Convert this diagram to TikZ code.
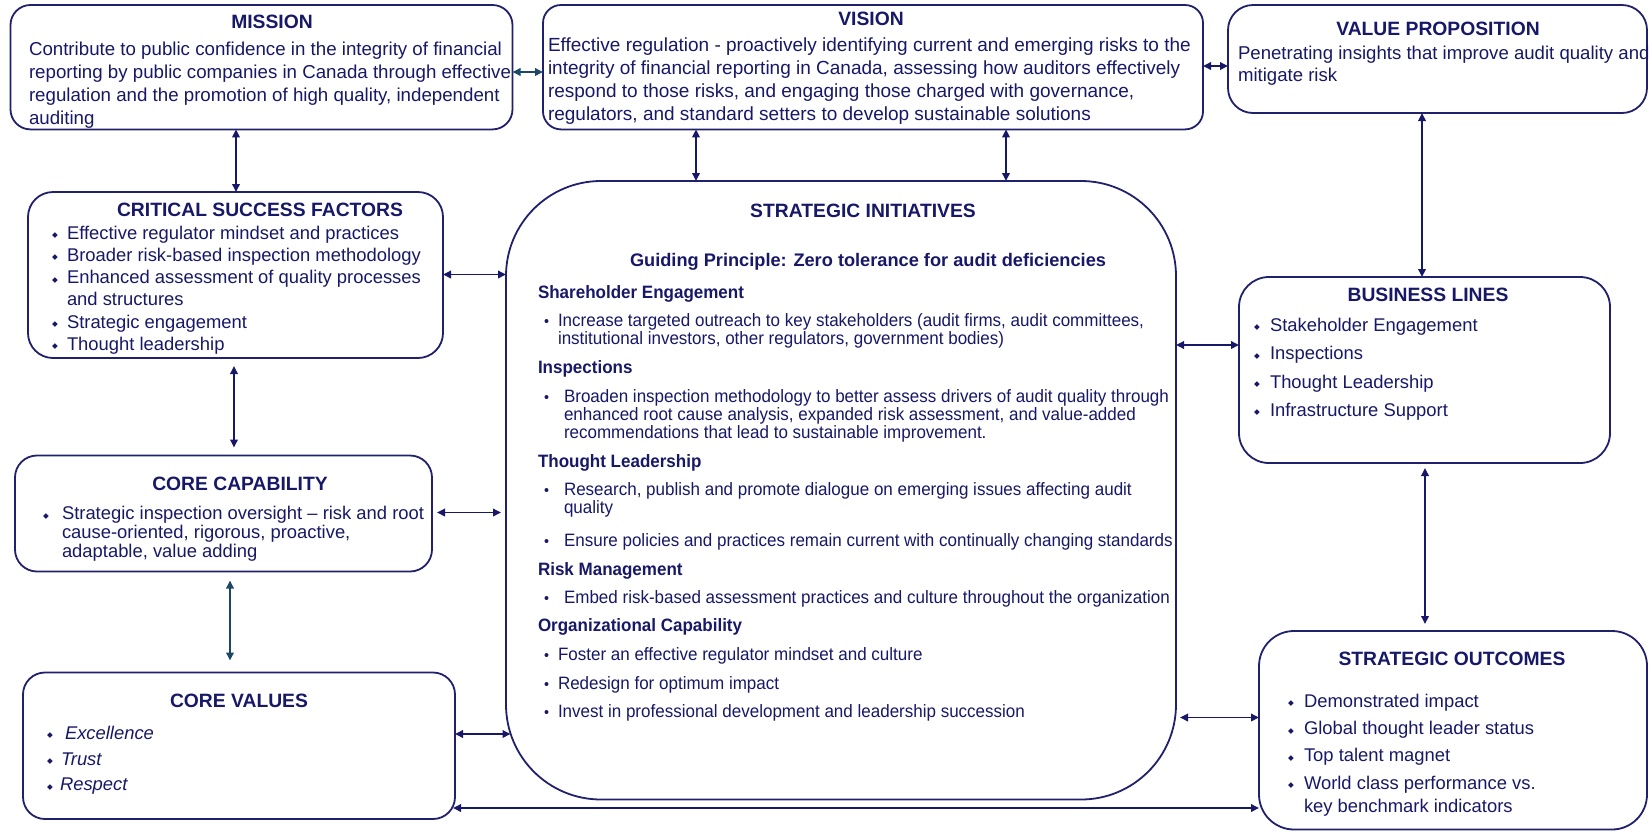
\documentclass[tikz,border=0pt]{standalone}
\usepackage{fontspec}
\setmainfont{Liberation Sans}
\newfontfamily\djv{DejaVu Sans}
\newfontfamily\sinar[FakeStretch=0.95]{Liberation Sans}
\usetikzlibrary{arrows.meta}
\definecolor{navy}{RGB}{24,24,104}
\definecolor{boxline}{RGB}{32,32,108}
\definecolor{tealc}{RGB}{28,72,104}
\newcounter{lnc}
\newcommand\Tl[3][]{\stepcounter{lnc}\node[txt,#1] (t\arabic{lnc}) at (#2) {#3};}
\newcommand\dia{\raisebox{1.2pt}{\djv\fontsize{7.5}{7.5}\selectfont ◆}}
\newcommand\bl[1]{\llap{\dia\hspace{#1}}}
\newcommand\sibg[1]{\llap{\fontsize{15}{15}\selectfont •\hspace{#1}}}
\begin{document}
\begin{tikzpicture}[x=1pt,y=-1pt,
  box/.style={draw=boxline, line width=1.8pt, rounded corners=22pt, inner sep=0pt, outer sep=0pt, fill=white},
  txt/.style={anchor=base west, inner sep=0pt, outer sep=0pt, text=navy, font=\fontsize{18.4}{22}\selectfont},
  ttl/.style={anchor=base, inner sep=0pt, outer sep=0pt, text=navy, font=\bfseries\fontsize{19.3}{22}\selectfont},
  sit/.style={txt, font=\sinar\fontsize{17.9}{20}\selectfont},
  sih/.style={txt, font=\sinar\bfseries\fontsize{17.9}{20}\selectfont},
  conn/.style={draw=navy, line width=1.8pt, {Triangle[length=8pt,width=7.5pt]}-{Triangle[length=8pt,width=7.5pt]}},
  connt/.style={conn, draw=tealc}
]
\useasboundingbox (0,0) rectangle (1650,831);
\fill[white] (0,0) rectangle (1650,831);

% boxes
\node[box, rounded corners=20pt, minimum width=502pt, minimum height=124.4pt] (mission) at (261.5,67.2) {};
\node[box, rounded corners=18pt, minimum width=660pt, minimum height=124.4pt] (vision) at (873,67.2) {};
\node[box, rounded corners=25pt, minimum width=419pt, minimum height=108pt] (vp) at (1437.5,59) {};
\node[box, rounded corners=25pt, minimum width=415pt, minimum height=166pt] (csf) at (235.5,275) {};
\node[box, minimum width=417pt, minimum height=116pt] (cc) at (223.5,513.5) {};
\node[box, minimum width=432pt, minimum height=146.5pt] (cv) at (239,745.75) {};
\node[box, rounded corners=95pt, minimum width=670pt, minimum height=618.5pt] (si) at (841,490.25) {};
\node[box, rounded corners=30pt, minimum width=371pt, minimum height=186pt] (bl) at (1424.5,370) {};
\node[box, rounded corners=35pt, minimum width=388pt, minimum height=198.5pt] (so) at (1453,730.25) {};

% connector levels
\coordinate (yMV) at (0,72);
\coordinate (yVP) at (0,66);
\coordinate (xMC) at (236,0);
\coordinate (xVS1) at (696,0);
\coordinate (xVS2) at (1006,0);
\coordinate (xVB) at (1422,0);
\coordinate (yCS) at (0,274.5);
\coordinate (xCC) at (234,0);
\coordinate (yCCS) at (0,512.5);
\coordinate (xCV) at (230,0);
\coordinate (yCVS) at (0,734);
\coordinate (ySB) at (0,345);
\coordinate (xBS) at (1425,0);
\coordinate (ySO) at (0,717.5);
\coordinate (yBot) at (0,808);

\draw[connt] (mission.east |- yMV) -- (vision.west |- yMV);
\draw[conn] (vision.east |- yVP) -- (vp.west |- yVP);
\draw[conn] (mission.south -| xMC) -- (csf.north -| xMC);
\draw[conn] (vision.south -| xVS1) -- (si.north -| xVS1);
\draw[conn] (vision.south -| xVS2) -- (si.north -| xVS2);
\draw[conn] (vp.south -| xVB) -- (bl.north -| xVB);
\draw[conn] (csf.east |- yCS) -- (si.west |- yCS);
\draw[conn, shorten <=8pt, shorten >=8pt] (csf.south -| xCC) -- (cc.north -| xCC);
\draw[conn, shorten <=5pt, shorten >=5pt] (cc.east |- yCCS) -- (si.west |- yCCS);
\draw[connt, shorten <=9pt, shorten >=12pt] (cc.south -| xCV) -- (cv.north -| xCV);
\draw[conn, shorten >=-4.5pt] (cv.east |- yCVS) -- (si.west |- yCVS);
\draw[conn] (si.east |- ySB) -- (bl.west |- ySB);
\draw[conn, shorten <=5pt, shorten >=7pt] (bl.south -| xBS) -- (so.north -| xBS);
\draw[conn, shorten <=4pt] (si.east |- ySO) -- (so.west |- ySO);
\draw[conn, shorten <=-2pt] (cv.east |- yBot) -- (so.west |- yBot);

% MISSION
\Tl[ttl]{272,28}{MISSION}
\Tl[font=\fontsize{18.7}{22}\selectfont]{29,55.5}{Contribute to public confidence in the integrity of financial}
\Tl[font=\fontsize{18.7}{22}\selectfont]{29,78.5}{reporting by public companies in Canada through effective}
\Tl[font=\fontsize{18.7}{22}\selectfont]{29,101.5}{regulation and the promotion of high quality, independent}
\Tl[font=\fontsize{18.7}{22}\selectfont]{29,124.5}{auditing}

% VISION
\Tl[ttl]{871,25}{VISION}
\Tl[font=\fontsize{19}{22}\selectfont]{548,51.5}{Effective regulation - proactively identifying current and emerging risks to the}
\Tl[font=\fontsize{19}{22}\selectfont]{548,74.5}{integrity of financial reporting in Canada, assessing how auditors effectively}
\Tl[font=\fontsize{19}{22}\selectfont]{548,97.5}{respond to those risks, and engaging those charged with governance,}
\Tl[font=\fontsize{19}{22}\selectfont]{548,120.5}{regulators, and standard setters to develop sustainable solutions}

% VALUE PROPOSITION
\Tl[ttl]{1438,35.5}{VALUE PROPOSITION}
\Tl[font=\fontsize{18.6}{22}\selectfont]{1238,59.7}{Penetrating insights that improve audit quality and}
\Tl[font=\fontsize{18.6}{22}\selectfont]{1238,81.8}{mitigate risk}

% CRITICAL SUCCESS FACTORS
\Tl[ttl]{260,216.5}{CRITICAL SUCCESS FACTORS}
\Tl{67,239}{\bl{9pt}Effective regulator mindset and practices}
\Tl{67,261}{\bl{9pt}Broader risk-based inspection methodology}
\Tl{67,283.5}{\bl{9pt}Enhanced assessment of quality processes}
\Tl{67,305.5}{and structures}
\Tl{67,328}{\bl{9pt}Strategic engagement}
\Tl{67,350}{\bl{9pt}Thought leadership}

% CORE CAPABILITY
\Tl[ttl]{240,490}{CORE CAPABILITY}
\Tl{62,519.5}{\bl{13pt}Strategic inspection oversight -- risk and root}
\Tl{62,538.5}{cause-oriented, rigorous, proactive,}
\Tl{62,557.5}{adaptable, value adding}

% CORE VALUES
\Tl[ttl]{239,707}{CORE VALUES}
\Tl[font=\itshape\fontsize{18.4}{22}\selectfont]{65,739}{\bl{12pt}Excellence}
\Tl[font=\itshape\fontsize{18.4}{22}\selectfont]{61,765}{\bl{8pt}Trust}
\Tl[font=\itshape\fontsize{18.4}{22}\selectfont]{60,790.5}{\bl{7pt}Respect}

% STRATEGIC INITIATIVES
\Tl[ttl]{863,217}{STRATEGIC INITIATIVES}
\Tl[ttl, font=\bfseries\fontsize{18.2}{22}\selectfont]{868,266.5}{Guiding Principle: Zero tolerance for audit deficiencies}
\Tl[sih]{538,298}{Shareholder Engagement}
\Tl[sit]{558,326}{\sibg{9pt}Increase targeted outreach to key stakeholders (audit firms, audit committees,}
\Tl[sit]{558,344.3}{institutional investors, other regulators, government bodies)}
\Tl[sih]{538,373.3}{Inspections}
\Tl[sit]{564,402}{\sibg{15pt}Broaden inspection methodology to better assess drivers of audit quality through}
\Tl[sit]{564,420.3}{enhanced root cause analysis, expanded risk assessment, and value-added}
\Tl[sit]{564,438.7}{recommendations that lead to sustainable improvement.}
\Tl[sih]{538,467}{Thought Leadership}
\Tl[sit]{564,495.3}{\sibg{15pt}Research, publish and promote dialogue on emerging issues affecting audit}
\Tl[sit]{564,513.7}{quality}
\Tl[sit]{564,546.7}{\sibg{15pt}Ensure policies and practices remain current with continually changing standards}
\Tl[sih]{538,575}{Risk Management}
\Tl[sit]{564,603.7}{\sibg{15pt}Embed risk-based assessment practices and culture throughout the organization}
\Tl[sih]{538,631.7}{Organizational Capability}
\Tl[sit]{558,660.3}{\sibg{9pt}Foster an effective regulator mindset and culture}
\Tl[sit]{558,689.3}{\sibg{9pt}Redesign for optimum impact}
\Tl[sit]{558,717.7}{\sibg{9pt}Invest in professional development and leadership succession}

% BUSINESS LINES
\Tl[ttl]{1428,301.6}{BUSINESS LINES}
\Tl{1270,331}{\bl{10pt}Stakeholder Engagement}
\Tl{1270,359.6}{\bl{10pt}Inspections}
\Tl{1270,388}{\bl{10pt}Thought Leadership}
\Tl{1270,416}{\bl{10pt}Infrastructure Support}

% STRATEGIC OUTCOMES
\Tl[ttl]{1452,665.7}{STRATEGIC OUTCOMES}
\Tl{1304,707}{\bl{10pt}Demonstrated impact}
\Tl{1304,734.2}{\bl{10pt}Global thought leader status}
\Tl{1304,761.6}{\bl{10pt}Top talent magnet}
\Tl{1304,789}{\bl{10pt}World class performance vs.}
\Tl{1304,812}{key benchmark indicators}
\end{tikzpicture}
\end{document}
